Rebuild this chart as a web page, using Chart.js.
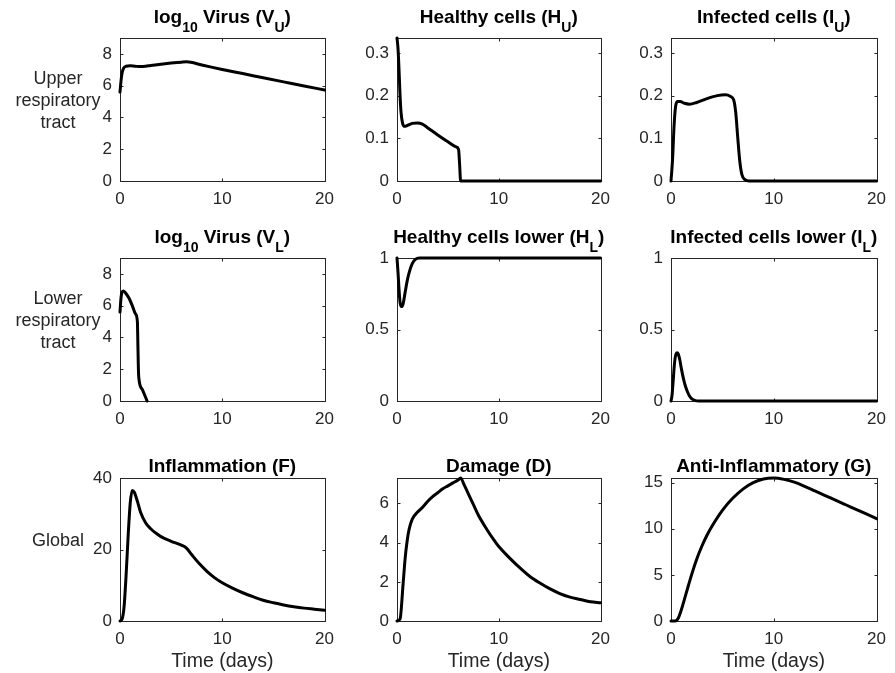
<!DOCTYPE html>
<html>
<head>
<meta charset="utf-8">
<title>Model time courses</title>
<script src="https://cdn.jsdelivr.net/npm/chart.js@4.4.1/dist/chart.umd.min.js"></script>
<style>
  body { margin: 0; background: #fff; width: 895px; height: 673px; position: relative; overflow: hidden; }
  canvas { position: absolute; }
</style>
</head>
<body>
<script>
// ---- data (time in days) ----
const timeTicks = [0, 10, 20];

const virusUpperT = [0, 0.1, 0.2, 0.35, 0.6, 1, 1.5, 2, 2.5, 3, 4, 5, 6, 6.5, 8, 10, 12, 14, 16, 18, 20];
const virusUpperV = [5.6, 6.3, 6.8, 7.1, 7.22, 7.25, 7.22, 7.2, 7.22, 7.27, 7.35, 7.42, 7.48, 7.5, 7.3, 7.02, 6.76, 6.5, 6.24, 5.98, 5.73];

const healthyUpperT = [0, 0.1, 0.2, 0.3, 0.4, 0.55, 0.75, 1, 1.5, 2, 2.5, 3, 4, 5, 5.8, 6.05, 6.15, 6.25, 20];
const healthyUpperV = [0.335, 0.31, 0.26, 0.2, 0.16, 0.135, 0.128, 0.13, 0.135, 0.136, 0.133, 0.125, 0.108, 0.092, 0.08, 0.074, 0.04, 0, 0];

const infectedUpperT = [0, 0.15, 0.3, 0.45, 0.65, 0.9, 1.3, 1.8, 2.5, 3.5, 4.5, 5.3, 5.8, 6.1, 6.3, 6.5, 6.7, 6.9, 7.2, 7.6, 20];
const infectedUpperV = [0, 0.05, 0.13, 0.175, 0.186, 0.186, 0.182, 0.18, 0.184, 0.193, 0.2, 0.202, 0.198, 0.19, 0.16, 0.1, 0.045, 0.015, 0.003, 0, 0];

const virusLowerT = [0, 0.1, 0.2, 0.35, 0.6, 0.9, 1.2, 1.5, 1.7, 1.75, 1.8, 1.85, 2.2, 2.65];
const virusLowerV = [5.6, 6.5, 6.85, 6.93, 6.75, 6.45, 6.0, 5.5, 5.0, 3.5, 2.0, 1.4, 0.7, 0];

const healthyLowerT = [0, 0.1, 0.2, 0.3, 0.45, 0.6, 0.8, 1.0, 1.2, 1.5, 1.8, 2.2, 20];
const healthyLowerV = [1, 0.9, 0.78, 0.69, 0.66, 0.68, 0.76, 0.84, 0.9, 0.96, 0.99, 1, 1];

const infectedLowerT = [0, 0.1, 0.2, 0.3, 0.4, 0.5, 0.6, 0.7, 0.85, 1.0, 1.2, 1.4, 1.6, 1.8, 2.0, 2.3, 2.7, 20];
const infectedLowerV = [0, 0.04, 0.13, 0.23, 0.3, 0.33, 0.338, 0.33, 0.29, 0.23, 0.16, 0.105, 0.065, 0.035, 0.017, 0.005, 0, 0];

const inflammationT = [0, 0.2, 0.4, 0.6, 0.8, 1.0, 1.2, 1.4, 1.7, 2.0, 2.5, 3, 3.5, 4, 5, 6, 6.5, 7, 7.7, 8.5, 9.3, 10, 11, 12, 13, 14, 15, 16, 17, 18, 19, 20];
const inflammationV = [0, 0.5, 4, 13, 24, 33, 36.5, 36, 33.5, 30.5, 27.5, 25.8, 24.6, 23.6, 22.3, 21.2, 20.4, 18.6, 16.2, 13.9, 12, 10.7, 9.2, 7.9, 6.8, 5.8, 5.1, 4.5, 4.0, 3.6, 3.3, 3.0];

const damageT = [0, 0.3, 0.6, 0.8, 1.0, 1.2, 1.5, 2, 2.5, 3, 3.5, 4, 4.5, 5, 5.5, 6, 6.25, 6.6, 7, 7.5, 8, 8.8, 9.5, 10, 11, 12, 13, 14, 15, 16, 17, 18, 19, 20];
const damageV = [0, 0.1, 1.9, 3.2, 4.1, 4.7, 5.2, 5.55, 5.8, 6.1, 6.35, 6.55, 6.75, 6.9, 7.05, 7.2, 7.3, 6.95, 6.5, 5.95, 5.4, 4.7, 4.15, 3.8, 3.25, 2.75, 2.3, 1.95, 1.65, 1.4, 1.22, 1.1, 0.98, 0.93];

const antiInflT = [0, 0.4, 0.7, 1.0, 1.5, 2, 2.5, 3, 3.5, 4, 5, 6, 7, 8, 9, 10, 11, 12, 13, 14, 15, 16, 17, 18, 19, 20];
const antiInflV = [0, 0, 0.3, 1.2, 3.1, 5, 6.7, 8.1, 9.3, 10.3, 12, 13.3, 14.3, 15, 15.4, 15.5, 15.35, 15.05, 14.6, 14.1, 13.6, 13.1, 12.6, 12.1, 11.6, 11.1];

const rowLabels = [['Upper', 'respiratory', 'tract'], ['Lower', 'respiratory', 'tract'], ['Global']];

// ---- layout of the 3x3 grid (plot box edges) ----
const colLeft = [120, 397, 671], colRight = [328, 604, 880];
const rowTop = [38, 258, 478], rowBottom = [181, 401, 621];

const FONT = '"Liberation Sans", Arial, Helvetica, sans-serif';
const axisColor = '#262626';
const tickLen = 3;

// title pieces: [text, isSubscript]
const panels = [
  { row: 0, col: 0, t: virusUpperT, v: virusUpperV, yMax: 9, yTicks: [0, 2, 4, 6, 8],
    title: [['log'], ['10', 1], [' Virus (V'], ['U', 1], [')']] },
  { row: 0, col: 1, t: healthyUpperT, v: healthyUpperV, yMax: 0.335, yTicks: [0, 0.1, 0.2, 0.3],
    title: [['Healthy cells (H'], ['U', 1], [')']] },
  { row: 0, col: 2, t: infectedUpperT, v: infectedUpperV, yMax: 0.335, yTicks: [0, 0.1, 0.2, 0.3],
    title: [['Infected cells (I'], ['U', 1], [')']] },
  { row: 1, col: 0, t: virusLowerT, v: virusLowerV, yMax: 9, yTicks: [0, 2, 4, 6, 8],
    title: [['log'], ['10', 1], [' Virus (V'], ['L', 1], [')']] },
  { row: 1, col: 1, t: healthyLowerT, v: healthyLowerV, yMax: 1, yTicks: [0, 0.5, 1],
    title: [['Healthy cells lower (H'], ['L', 1], [')']] },
  { row: 1, col: 2, t: infectedLowerT, v: infectedLowerV, yMax: 1, yTicks: [0, 0.5, 1],
    title: [['Infected cells lower (I'], ['L', 1], [')']] },
  { row: 2, col: 0, t: inflammationT, v: inflammationV, yMax: 40, yTicks: [0, 20, 40],
    title: [['Inflammation (F)']] },
  { row: 2, col: 1, t: damageT, v: damageV, yMax: 7.3, yTicks: [0, 2, 4, 6],
    title: [['Damage (D)']] },
  { row: 2, col: 2, t: antiInflT, v: antiInflV, yMax: 15.5, yTicks: [0, 5, 10, 15],
    title: [['Anti-Inflammatory (G)']] }
];

// box, inward ticks, titles with subscripts, axis and row labels
const matlabAxes = {
  id: 'matlabAxes',
  beforeDatasetsDraw(chart) {
    const { ctx, chartArea: a, scales } = chart;
    ctx.save();
    ctx.strokeStyle = axisColor;
    ctx.lineWidth = 1;
    const l = Math.round(a.left) + 0.5, r = Math.round(a.right) + 0.5;
    const t = Math.round(a.top) + 0.5, b = Math.round(a.bottom) + 0.5;
    ctx.strokeRect(l, t, r - l, b - t);
    ctx.beginPath();
    scales.x.ticks.forEach(tk => {
      const px = Math.round(scales.x.getPixelForValue(tk.value)) + 0.5;
      ctx.moveTo(px, b); ctx.lineTo(px, b - tickLen);
      ctx.moveTo(px, t); ctx.lineTo(px, t + tickLen);
    });
    scales.y.ticks.forEach(tk => {
      const py = Math.round(scales.y.getPixelForValue(tk.value)) + 0.5;
      ctx.moveTo(l, py); ctx.lineTo(l + tickLen, py);
      ctx.moveTo(r, py); ctx.lineTo(r - tickLen, py);
    });
    ctx.stroke();
    ctx.restore();
  },
  afterDraw(chart, args, opts) {
    const { ctx, chartArea: a } = chart;
    ctx.save();
    ctx.fillStyle = '#000';
    ctx.textBaseline = 'alphabetic';
    ctx.textAlign = 'left';

    // title
    const mainFont = 'bold 19px ' + FONT, subFont = 'bold 14px ' + FONT;
    const hasSub = opts.title.some(p => p[1]);
    let total = 0;
    opts.title.forEach(p => { ctx.font = p[1] ? subFont : mainFont; total += ctx.measureText(p[0]).width; });
    let x = (a.left + a.right) / 2 - total / 2;
    const base = a.top - (hasSub ? 15 : 6.5);
    opts.title.forEach(p => {
      ctx.font = p[1] ? subFont : mainFont;
      ctx.fillText(p[0], x, p[1] ? base + 9 : base);
      x += ctx.measureText(p[0]).width;
    });

    ctx.fillStyle = axisColor;
    ctx.textAlign = 'center';
    if (opts.xLabel) {
      ctx.font = '19.5px ' + FONT;
      ctx.fillText(opts.xLabel, (a.left + a.right) / 2, a.bottom + 45.5);
    }
    if (opts.rowLabel) {
      ctx.font = '18px ' + FONT;
      ctx.textBaseline = 'middle';
      const mid = (a.top + a.bottom) / 2 - 8.5;
      const n = opts.rowLabel.length;
      opts.rowLabel.forEach((s, i) => ctx.fillText(s, 58, mid + (i - (n - 1) / 2) * 22));
    }
    ctx.restore();
  }
};

panels.forEach(p => {
  const L = colLeft[p.col], R = colRight[p.col], T = rowTop[p.row], B = rowBottom[p.row];
  const yWidth = p.col === 0 ? L : 60;
  const xHeight = p.row === 2 ? 52 : 30;
  const cv = document.createElement('canvas');
  cv.width = yWidth + (R - L) + 14;
  cv.height = 40 + (B - T) + xHeight;
  cv.style.left = (L - yWidth) + 'px';
  cv.style.top = (T - 40) + 'px';
  document.body.appendChild(cv);

  new Chart(cv, {
    type: 'line',
    data: {
      datasets: [{
        data: p.t.map((x, i) => ({ x: x, y: p.v[i] })),
        borderColor: '#000',
        borderWidth: 3,
        pointRadius: 0,
        cubicInterpolationMode: 'monotone',
        borderJoinStyle: 'round',
        borderCapStyle: 'round',
        clip: 4
      }]
    },
    options: {
      responsive: false,
      animation: false,
      devicePixelRatio: 1,
      layout: { padding: { left: 0, right: 14, top: 40, bottom: 0 } },
      plugins: {
        legend: { display: false },
        tooltip: { enabled: false },
        matlabAxes: {
          title: p.title,
          xLabel: p.row === 2 ? 'Time (days)' : null,
          rowLabel: p.col === 0 ? rowLabels[p.row] : null
        }
      },
      scales: {
        x: {
          type: 'linear', min: 0, max: 20,
          grid: { display: false, drawTicks: false },
          border: { display: false },
          ticks: { autoSkip: false, maxRotation: 0, padding: 8, color: axisColor,
                   font: { family: FONT, size: 17 }, callback: v => String(v) },
          afterBuildTicks: s => { s.ticks = timeTicks.map(v => ({ value: v })); },
          afterFit: s => { s.height = xHeight; }
        },
        y: {
          type: 'linear', min: 0, max: p.yMax,
          grid: { display: false, drawTicks: false },
          border: { display: false },
          ticks: { autoSkip: false, padding: 8, color: axisColor,
                   font: { family: FONT, size: 17 }, callback: v => String(v) },
          afterBuildTicks: s => { s.ticks = p.yTicks.map(v => ({ value: v })); },
          afterFit: s => { s.width = yWidth; }
        }
      }
    },
    plugins: [matlabAxes]
  });
});
</script>
</body>
</html>
